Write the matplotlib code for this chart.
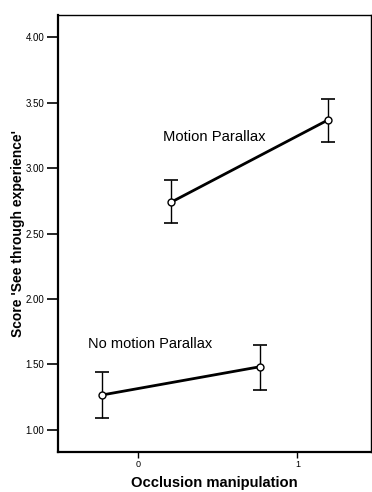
import matplotlib
matplotlib.use("Agg")
import matplotlib.pyplot as plt

plt.rcParams['font.family'] = ['Liberation Sans', 'DejaVu Sans']

# Data
nomp_x = [-0.225, 0.765]
nomp_y = [1.267, 1.483]
nomp_lo = [1.09, 1.305]
nomp_hi = [1.443, 1.649]

mp_x = [0.21, 1.19]
mp_y = [2.74, 3.366]
mp_lo = [2.578, 3.20]
mp_hi = [2.908, 3.53]

yticks = [1.00, 1.50, 2.00, 2.50, 3.00, 3.50, 4.00]
ytick_labels = ["1.00", "1.50", "2.00", "2.50", "3.00", "3.50", "4.00"]
xticks = [0, 1]
xtick_labels = ["0", "1"]

fig = plt.figure(figsize=(3.72, 4.92), dpi=100)
ax = fig.add_axes([0.156, 0.0813, 0.841, 0.8882])

for xs, ys, lo, hi in [(nomp_x, nomp_y, nomp_lo, nomp_hi), (mp_x, mp_y, mp_lo, mp_hi)]:
    yerr = [[y - l for y, l in zip(ys, lo)], [h - y for y, h in zip(ys, hi)]]
    ax.errorbar(xs, ys, yerr=yerr, fmt='none', ecolor='black', elinewidth=1.0,
                capsize=5, capthick=1.2, zorder=2)
    ax.plot(xs, ys, color='black', lw=2.0, zorder=3)
    ax.plot(xs, ys, 'o', mfc='white', mec='black', ms=5, mew=1.0, zorder=4)

ax.text(0.156, 3.237, "Motion Parallax", fontsize=10.6, va='center', ha='left')
ax.text(-0.31, 1.656, "No motion Parallax", fontsize=10.5, va='center', ha='left')

ax.set_xlim(-0.5, 1.46)
ax.set_ylim(0.832, 4.168)
ax.set_yticks(yticks)
ax.set_yticklabels(ytick_labels, fontsize=7)
ax.set_xticks(xticks)
ax.set_xticklabels(xtick_labels, fontsize=6.5)
ax.tick_params(axis='y', length=8, width=1.2, pad=2)
ax.tick_params(axis='x', length=4, width=1.0, pad=2)

for s in ['left', 'bottom']:
    ax.spines[s].set_linewidth(1.6)
for s in ['top', 'right']:
    ax.spines[s].set_linewidth(1.0)

ax.set_ylabel("Score 'See through experience'", fontsize=10, fontweight='bold', labelpad=0)
ax.set_xlabel("Occlusion manipulation", fontsize=10.6, fontweight='bold', labelpad=5)

fig.savefig("out.png", dpi=100)
